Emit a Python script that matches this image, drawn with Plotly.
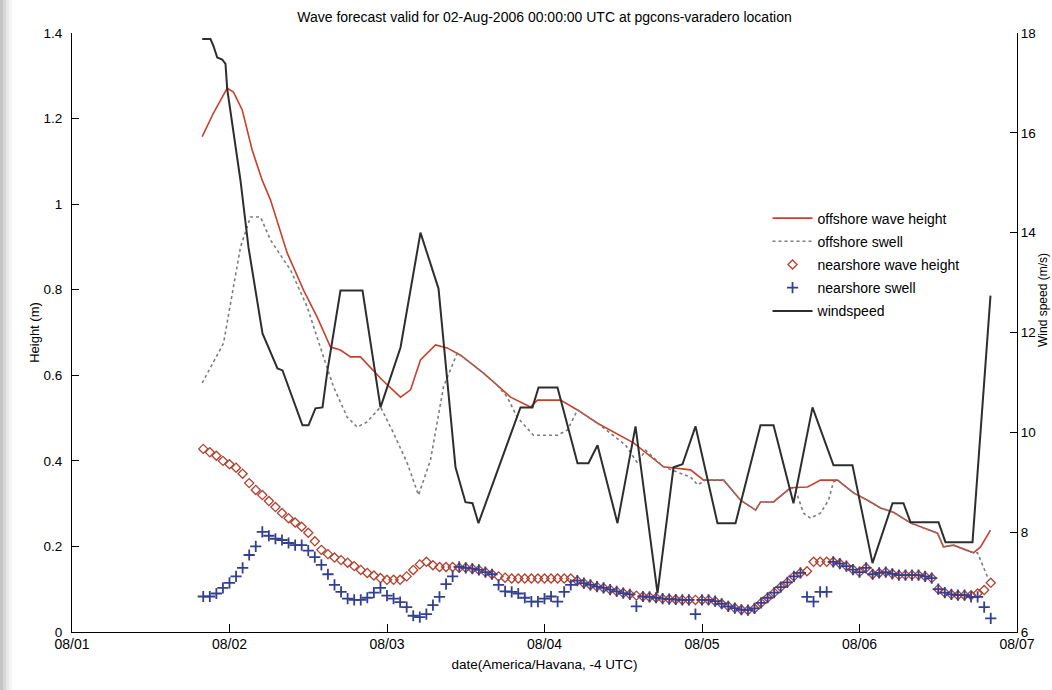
import pandas as pd
import plotly.graph_objects as go

BASE = "2006-08-01 00:00"

# windspeed (m/s) breakpoints, hours since 08/01 00:00
wind_hours = [19.84, 21.10, 21.56, 22.13, 22.89, 23.39, 23.65, 25.68, 26.90, 29.03,
              31.31, 32.08, 35.12, 36.04, 37.10, 38.17, 38.93, 40.91, 44.27, 47.01,
              50.06, 53.10, 55.85, 58.44, 59.96, 61.03, 61.94, 68.34, 70.17, 71.09,
              73.98, 77.03, 78.70, 80.08, 83.12, 85.87, 89.22, 91.66, 93.03, 95.01,
              98.36, 101.11, 104.91, 106.90, 109.94, 112.84, 116.04, 118.93, 121.98, 125.03,
              126.70, 127.77, 132.04, 133.10, 137.22, 139.96]
wind_speed = [17.88, 17.88, 17.74, 17.51, 17.47, 17.38, 16.88, 15.04, 13.70, 11.98,
              11.28, 11.24, 10.14, 10.14, 10.48, 10.50, 11.24, 12.84, 12.84, 10.50,
              11.70, 14.00, 12.88, 9.30, 8.60, 8.58, 8.18, 10.50, 10.50, 10.90,
              10.90, 9.38, 9.38, 9.74, 8.18, 10.12, 6.78, 9.30, 9.36, 10.12,
              8.18, 8.18, 10.14, 10.14, 8.58, 10.50, 9.34, 9.34, 7.38, 8.58,
              8.58, 8.20, 8.20, 7.80, 7.80, 12.74]

# offshore wave height (m)
offshore_hours = [19.84, 21.56, 23.65, 24.61, 25.94, 27.46, 28.98, 30.24, 32.79, 35.28,
                  37.36, 39.39, 40.91, 42.44, 43.96, 45.48, 47.27, 50.06, 51.59, 53.10,
                  55.39, 57.17, 59.21, 60.72, 62.70, 64.79, 66.82, 69.87, 70.93, 74.44,
                  77.03, 80.08, 85.57, 90.14, 94.26, 96.24, 99.29, 101.88, 104.17, 104.93,
                  106.90, 109.49, 112.08, 114.06, 116.65, 119.09, 121.22, 123.20, 125.18, 127.77,
                  131.89, 132.80, 134.32, 137.37, 138.44, 139.96]
offshore_height = [1.158, 1.213, 1.271, 1.262, 1.220, 1.126, 1.056, 1.010, 0.886, 0.799,
                   0.736, 0.666, 0.659, 0.643, 0.643, 0.619, 0.589, 0.549, 0.566, 0.636,
                   0.671, 0.664, 0.647, 0.629, 0.605, 0.577, 0.549, 0.526, 0.542, 0.542,
                   0.519, 0.488, 0.442, 0.386, 0.379, 0.355, 0.355, 0.308, 0.285, 0.304,
                   0.304, 0.337, 0.339, 0.355, 0.355, 0.325, 0.308, 0.290, 0.280, 0.255,
                   0.231, 0.199, 0.203, 0.185, 0.199, 0.238]

# offshore swell (m)
swell_hours = [19.84, 23.09, 25.68, 27.20, 28.72, 30.25, 33.30, 35.84, 38.32, 39.85,
               41.94, 43.46, 44.98, 47.01, 48.99, 51.08, 52.80, 54.63, 56.61, 58.70,
               60.72, 62.70, 64.79, 66.32, 67.84, 70.32, 73.98, 75.50, 77.03, 80.08,
               84.34, 86.17, 87.39, 90.14, 94.26, 95.33, 96.55, 99.29, 101.88, 104.17,
               104.93, 106.90, 109.49, 110.25, 111.47, 112.53, 114.06, 115.28, 116.04, 116.65,
               119.09, 121.22, 123.20, 125.18, 127.77, 131.89, 132.80, 134.32, 136.91, 137.98,
               139.50]
offshore_swell = [0.582, 0.675, 0.900, 0.970, 0.970, 0.916, 0.846, 0.760, 0.643, 0.573,
                  0.502, 0.479, 0.491, 0.526, 0.465, 0.395, 0.320, 0.402, 0.573, 0.652,
                  0.629, 0.605, 0.577, 0.549, 0.502, 0.460, 0.460, 0.472, 0.519, 0.488,
                  0.437, 0.395, 0.425, 0.386, 0.362, 0.344, 0.355, 0.355, 0.308, 0.285,
                  0.304, 0.304, 0.337, 0.332, 0.278, 0.266, 0.278, 0.308, 0.351, 0.355,
                  0.325, 0.308, 0.290, 0.280, 0.255, 0.231, 0.199, 0.203, 0.187, 0.185,
                  0.129]

# nearshore, hourly from 08/01 20:00 to 08/06 20:00
near_hours = list(range(20, 141))
nearshore_height = [
    0.428, 0.420, 0.412, 0.400, 0.392, 0.384, 0.370, 0.348, 0.332, 0.320,
    0.306, 0.292, 0.278, 0.266, 0.256, 0.246, 0.232, 0.212, 0.192, 0.182,
    0.174, 0.168, 0.162, 0.154, 0.145, 0.138, 0.132, 0.126, 0.122, 0.122,
    0.122, 0.130, 0.145, 0.158, 0.164, 0.156, 0.152, 0.152, 0.152, 0.150,
    0.150, 0.148, 0.145, 0.140, 0.135, 0.130, 0.127, 0.125, 0.125, 0.125,
    0.125, 0.125, 0.125, 0.125, 0.125, 0.125, 0.125, 0.120, 0.114, 0.110,
    0.106, 0.103, 0.099, 0.095, 0.091, 0.088, 0.085, 0.083, 0.082, 0.080,
    0.078, 0.077, 0.076, 0.075, 0.075, 0.075, 0.075, 0.075, 0.072, 0.066,
    0.060, 0.056, 0.052, 0.051, 0.055, 0.068, 0.080, 0.092, 0.105, 0.116,
    0.130, 0.138, 0.142, 0.164, 0.164, 0.164, 0.164, 0.160, 0.154, 0.146,
    0.140, 0.150, 0.135, 0.138, 0.140, 0.136, 0.133, 0.133, 0.133, 0.133,
    0.130, 0.126, 0.100, 0.092, 0.088, 0.086, 0.086, 0.086, 0.090, 0.098,
    0.115]
nearshore_swell = [
    0.083, 0.083, 0.090, 0.103, 0.115, 0.130, 0.150, 0.180, 0.200, 0.234,
    0.225, 0.218, 0.215, 0.208, 0.203, 0.203, 0.190, 0.175, 0.157, 0.135,
    0.110, 0.094, 0.078, 0.075, 0.075, 0.080, 0.092, 0.103, 0.085, 0.078,
    0.070, 0.058, 0.038, 0.035, 0.042, 0.063, 0.082, 0.112, 0.130, 0.152,
    0.150, 0.148, 0.145, 0.140, 0.135, 0.110, 0.095, 0.094, 0.090, 0.080,
    0.071, 0.071, 0.078, 0.083, 0.071, 0.094, 0.110, 0.120, 0.114, 0.110,
    0.106, 0.103, 0.099, 0.095, 0.091, 0.088, 0.060, 0.083, 0.082, 0.080,
    0.078, 0.077, 0.076, 0.075, 0.075, 0.042, 0.075, 0.075, 0.072, 0.066,
    0.060, 0.056, 0.052, 0.051, 0.055, 0.068, 0.080, 0.092, 0.105, 0.116,
    0.130, 0.138, 0.082, 0.071, 0.094, 0.094, 0.164, 0.160, 0.154, 0.146,
    0.140, 0.150, 0.135, 0.138, 0.140, 0.136, 0.133, 0.133, 0.133, 0.133,
    0.130, 0.126, 0.100, 0.092, 0.088, 0.086, 0.086, 0.082, 0.082, 0.058,
    0.032]

x_tick_dates = ["2006-08-01", "2006-08-02", "2006-08-03", "2006-08-04",
                "2006-08-05", "2006-08-06", "2006-08-07"]
x_tick_labels = ["08/01", "08/02", "08/03", "08/04", "08/05", "08/06", "08/07"]
height_ticks = [0, 0.2, 0.4, 0.6, 0.8, 1.0, 1.2, 1.4]
height_tick_labels = ["0", "0.2", "0.4", "0.6", "0.8", "1", "1.2", "1.4"]
wind_ticks = [6, 8, 10, 12, 14, 16, 18]

TITLE = "Wave forecast valid for 02-Aug-2006 00:00:00 UTC at pgcons-varadero location"
WIND_TITLE = "Wind speed (m/s)"


def to_time(hours):
    return pd.Timestamp(BASE) + pd.to_timedelta(hours, unit="h")


FONT = "Liberation Sans, Arial, sans-serif"
W, H = 1052, 690
ML, MR, MT, MB = 72, 35, 33, 58
PW, PH = W - ML - MR, H - MT - MB

fig = go.Figure()
fig.add_trace(go.Scatter(
    x=to_time(offshore_hours), y=offshore_height, mode="lines",
    name="offshore wave height", legendgroup="a",
    line=dict(color="#c9402c", width=1.6)))
fig.add_trace(go.Scatter(
    x=to_time(swell_hours), y=offshore_swell, mode="lines",
    name="offshore swell", legendgroup="b",
    line=dict(color="#7c7c7c", width=1.6, dash="dot")))
fig.add_trace(go.Scatter(
    x=to_time(near_hours), y=nearshore_height, mode="markers",
    name="nearshore wave height", legendgroup="c",
    marker=dict(symbol="diamond-open", size=7, color="#b3402f",
                line=dict(width=1.3, color="#b3402f"))))
fig.add_trace(go.Scatter(
    x=to_time(near_hours), y=nearshore_swell, mode="markers",
    name="nearshore swell", legendgroup="d",
    marker=dict(symbol="cross-thin", size=8, color="#333f8f",
                line=dict(width=1.8, color="#333f8f"))))
fig.add_trace(go.Scatter(
    x=to_time(wind_hours), y=wind_speed, mode="lines", yaxis="y2",
    name="windspeed", legendgroup="e",
    line=dict(color="#2e2e2e", width=2)))

# soft grey shadow band along the left edge of the picture
shadow = [("#c4c4c4", 0, 3), ("#d6d6d6", 3, 6), ("#e8e8e8", 6, 9), ("#f4f4f4", 9, 12)]
for color, p0, p1 in shadow:
    fig.add_shape(type="rect", xref="paper", yref="paper",
                  x0=(p0 - ML) / PW, x1=(p1 - ML) / PW,
                  y0=-MB / PH, y1=1 + MT / PH,
                  fillcolor=color, line=dict(width=0), layer="below")

# right-hand axis title, near the right edge as in the reference
fig.add_annotation(text=WIND_TITLE, xref="paper", yref="paper",
                   x=(1043 - ML) / PW, y=(632 - 300) / PH,
                   xanchor="center", yanchor="middle", textangle=-90,
                   showarrow=False, font=dict(size=12, family=FONT, color="black"))

fig.update_layout(
    width=W, height=H,
    margin=dict(l=ML, r=MR, t=MT, b=MB),
    paper_bgcolor="white", plot_bgcolor="white",
    font=dict(family=FONT, size=13, color="black"),
    title=dict(text=TITLE, x=0.5, xref="paper", xanchor="center",
               y=1 - 17 / H, yref="container", yanchor="middle",
               font=dict(size=14, family=FONT, color="black")),
    xaxis=dict(type="date", range=[x_tick_dates[0], x_tick_dates[-1]],
               tickvals=x_tick_dates, ticktext=x_tick_labels,
               ticks="inside", ticklen=8, tickcolor="black", tickwidth=1,
               showline=True, linecolor="black", linewidth=1,
               showgrid=False, zeroline=False, automargin=False,
               tickfont=dict(size=14), ticklabelstandoff=-1,
               title=dict(text="date(America/Havana, -4 UTC)", standoff=8,
                          font=dict(size=13.5))),
    yaxis=dict(range=[0, 1.4], tickvals=height_ticks, ticktext=height_tick_labels,
               ticks="inside", ticklen=7, tickcolor="black", tickwidth=1,
               showline=True, linecolor="black", linewidth=1,
               showgrid=False, zeroline=False, automargin=False,
               tickfont=dict(size=13.5), ticklabelstandoff=6,
               title=dict(text="Height (m)", standoff=0, font=dict(size=13))),
    yaxis2=dict(range=[6, 18], tickvals=wind_ticks, overlaying="y", side="right",
                ticks="inside", ticklen=7, tickcolor="black", tickwidth=1,
                showline=True, linecolor="black", linewidth=1,
                showgrid=False, zeroline=False, automargin=False,
                tickfont=dict(size=13.5)),
    legend=dict(x=0.736, y=0.717, xanchor="left", yanchor="top",
                bgcolor="rgba(0,0,0,0)", borderwidth=0,
                font=dict(size=14), tracegroupgap=2, itemwidth=40),
    showlegend=True,
)

# place the figure flush with the page corner (no default body margin)
fig.write_html("out.html", config={"displayModeBar": False},
               post_script="document.body.style.margin='0';document.body.style.overflow='hidden';")
